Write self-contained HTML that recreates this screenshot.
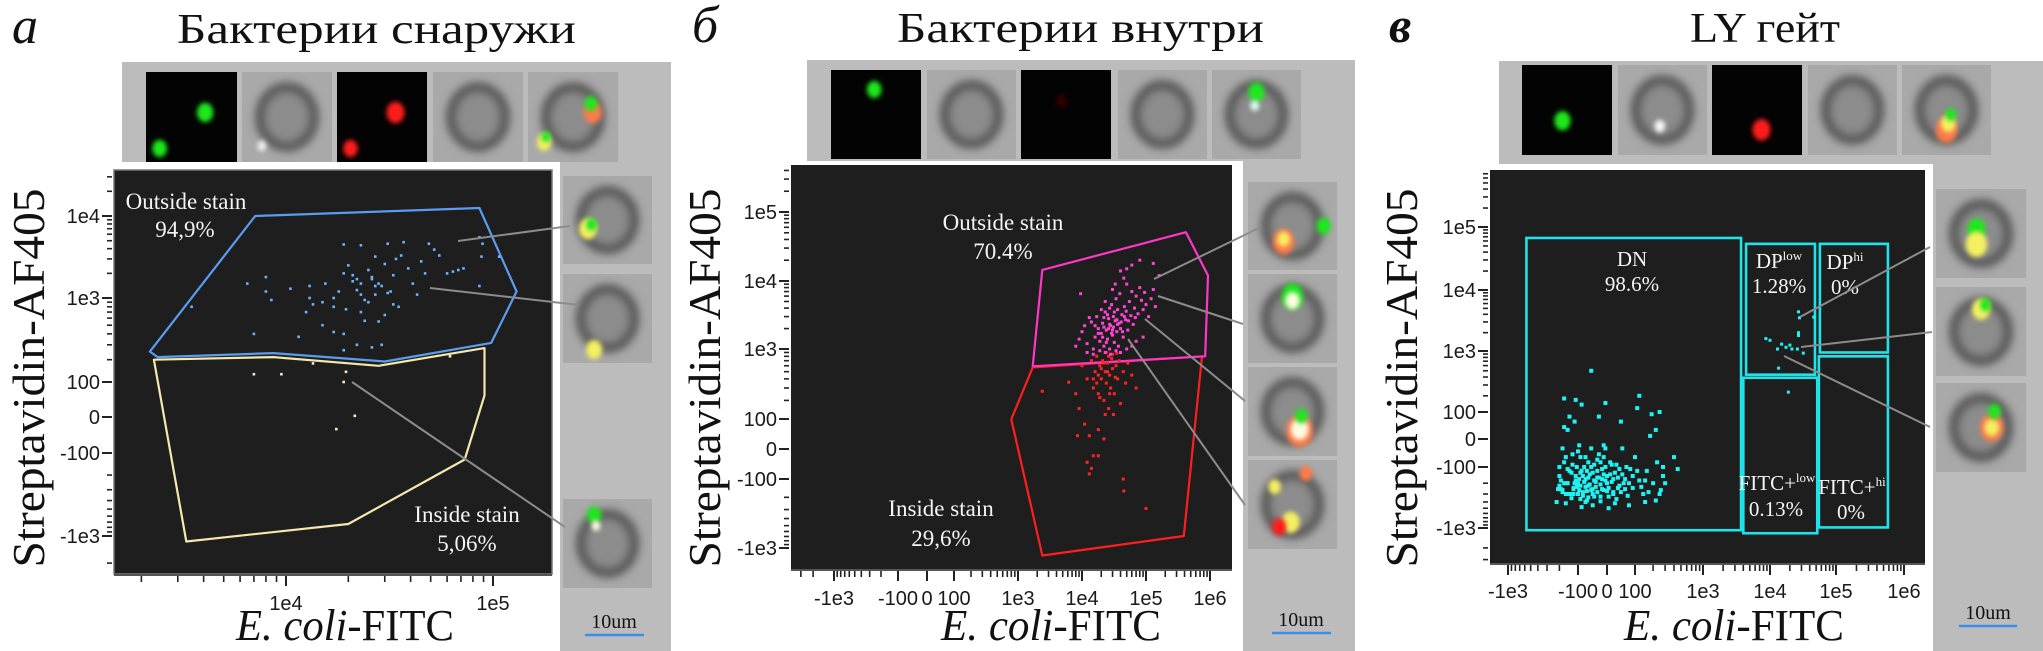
<!DOCTYPE html>
<html><head><meta charset="utf-8"><title>Flow cytometry figure</title>
<style>
html,body{margin:0;padding:0;background:#fff;}
svg{display:block;}
.serif{font-family:"Liberation Serif","Noto Serif CJK SC",serif;}
.sans{font-family:"Liberation Sans","Noto Sans CJK SC",sans-serif;}
</style></head>
<body>
<svg id="fig" width="2043" height="651" viewBox="0 0 2043 651" xmlns="http://www.w3.org/2000/svg">
<defs>
<filter id="b2" x="-50%" y="-50%" width="200%" height="200%"><feGaussianBlur stdDeviation="2.5"/></filter>
<filter id="b4" x="-50%" y="-50%" width="200%" height="200%"><feGaussianBlur stdDeviation="4.5"/></filter>
<clipPath id="clipA"><rect x="114" y="170" width="438" height="404"/></clipPath>
<clipPath id="clipB"><rect x="791" y="165" width="441" height="404"/></clipPath>
<clipPath id="clipC"><rect x="1490" y="170" width="435" height="393"/></clipPath>
</defs>
<rect x="0" y="0" width="2043" height="651" fill="#ffffff"/>

<text class="serif" x="12" y="43" font-size="52" font-style="italic" fill="#111">a</text>
<text class="serif" x="177" y="43" font-size="42" fill="#111" textLength="399" lengthAdjust="spacingAndGlyphs">Бактерии снаружи</text>
<text class="serif" x="692" y="42" font-size="52" font-style="italic" fill="#111">б</text>
<text class="serif" x="897" y="42" font-size="42" fill="#111" textLength="367" lengthAdjust="spacingAndGlyphs">Бактерии внутри</text>
<text class="serif" x="1389" y="42" font-size="50" font-style="italic" font-weight="bold" fill="#111">в</text>
<text class="serif" x="1690" y="42" font-size="42" fill="#111" textLength="150" lengthAdjust="spacingAndGlyphs">LY гейт</text>

<rect x="122" y="62" width="549" height="100" fill="#bcbcbc"/>
<rect x="560" y="162" width="111" height="489" fill="#bcbcbc"/>
<rect x="807" y="60" width="548" height="102" fill="#bcbcbc"/>
<rect x="1243" y="162" width="112" height="489" fill="#bcbcbc"/>
<rect x="1499" y="61" width="544" height="103" fill="#bcbcbc"/>
<rect x="1933" y="164" width="110" height="487" fill="#bcbcbc"/>

<rect x="110" y="166" width="448" height="412" fill="#ffffff"/>
<rect x="114" y="170" width="438" height="404" fill="#1e1e1e" stroke="#777" stroke-width="1.5"/>
<rect x="787" y="161" width="456" height="412" fill="#ffffff"/>
<rect x="791" y="165" width="441" height="404" fill="#1e1e1e"/>
<rect x="1486" y="166" width="447" height="401" fill="#ffffff"/>
<rect x="1490" y="170" width="435" height="393" fill="#1e1e1e"/>

<text class="serif" transform="translate(44,378) rotate(-90)" text-anchor="middle" font-size="46" fill="#111" textLength="379" lengthAdjust="spacingAndGlyphs">Streptavidin-AF405</text>
<text class="serif" transform="translate(720,378) rotate(-90)" text-anchor="middle" font-size="46" fill="#111" textLength="379" lengthAdjust="spacingAndGlyphs">Streptavidin-AF405</text>
<text class="serif" transform="translate(1417,378) rotate(-90)" text-anchor="middle" font-size="46" fill="#111" textLength="379" lengthAdjust="spacingAndGlyphs">Streptavidin-AF405</text>
<text class="serif" x="236" y="640" font-size="44" fill="#111" textLength="218" lengthAdjust="spacingAndGlyphs"><tspan font-style="italic">E. coli</tspan>-FITC</text>
<text class="serif" x="941" y="640" font-size="44" fill="#111" textLength="220" lengthAdjust="spacingAndGlyphs"><tspan font-style="italic">E. coli</tspan>-FITC</text>
<text class="serif" x="1624" y="640" font-size="44" fill="#111" textLength="220" lengthAdjust="spacingAndGlyphs"><tspan font-style="italic">E. coli</tspan>-FITC</text>

<text class="serif" x="614" y="628" font-size="20" text-anchor="middle" fill="#111">10um</text>
<line x1="585" y1="635" x2="644" y2="635" stroke="#3b8ee8" stroke-width="2.5"/>
<text class="serif" x="1301" y="626" font-size="20" text-anchor="middle" fill="#111">10um</text>
<line x1="1272" y1="633" x2="1331" y2="633" stroke="#3b8ee8" stroke-width="2.5"/>
<text class="serif" x="1988" y="619" font-size="20" text-anchor="middle" fill="#111">10um</text>
<line x1="1959" y1="626" x2="2017" y2="626" stroke="#3b8ee8" stroke-width="2.5"/>

<g id="layer"></g>
</svg>

<script>
// ===== DATA =====
const aXTickVals = [1e4, 1e5];
const aXTickLabels = ['1e4', '1e5'];
const aYTickVals = [1e4, 1e3, 100, 0, -100, -1e3];
const aYTickLabels = ['1e4', '1e3', '100', '0', '-100', '-1e3'];
const aOutsidePts = [[3.5e3,800],[6.5e3,1500],[8e3,1800],[8e3,1200],[8.5e3,950],[7e3,400],[1.05e4,1300],[1.3e4,1400],[1.15e4,370],[1.3e4,1000],[1.55e4,1500],[1.35e4,850],[1.5e4,900],[1.7e4,1000],[1.8e4,1200],[1.9e4,4500],[2e4,2500],[1.9e4,2000],[2.1e4,1600],[2.2e4,1700],[2.3e4,4400],[2.3e4,1100],[2.4e4,950],[2.5e4,2200],[2.6e4,1800],[2.7e4,3200],[2.8e4,1500],[2.9e4,1400],[3e4,2600],[3.1e4,4600],[3.2e4,1200],[3.3e4,1900],[3.4e4,3000],[3.6e4,3300],[3.7e4,4800],[3.9e4,2300],[4.1e4,1500],[4.3e4,1100],[4.5e4,2800],[4.7e4,2000],[4.9e4,4600],[5.2e4,3900],[5.5e4,3300],[6e4,2000],[6.4e4,2100],[6.8e4,2200],[7.2e4,2300],[8.6e4,5500],[8.8e4,3200],[8.9e4,4600],[8.6e4,1400],[1.07e5,3200],[1.25e4,700],[1.5e4,500],[1.7e4,420],[1.9e4,400],[2.2e4,300],[2.6e4,280],[2.9e4,300],[2.4e4,560],[2.8e4,550],[3e4,650],[3.5e4,800],[1.7e4,800],[1.95e4,750],[2.3e4,700],[1.9e4,260],[2.7e4,1100],[2.2e4,1250],[2.5e4,900],[2.7e4,1400],[3.1e4,1150],[3.3e4,850],[2.1e4,1900],[2.3e4,1500],[2.6e4,1700]];
const aInsidePts = [[7e3,130],[9.5e3,130],[1.35e4,180],[1.95e4,140],[1.9e4,100],[2.15e4,3],[1.75e4,-30],[6.2e4,220]];
const aOutsideGate = [[2.2e3,250],[7.1e3,1e4],[8.6e4,1.25e4],[1.3e5,1200],[9.8e4,316],[3e4,190],[8.7e3,240],[2.4e3,215]];
const aInsideGate = [[2.3e3,200],[8.7e3,215],[2.8e4,168],[9.1e4,275],[9.1e4,57],[7.3e4,-125],[2e4,-735],[3.3e3,-1150]];

const bXTickVals = [-1e3, -100, 0, 100, 1e3, 1e4, 1e5, 1e6];
const bXTickLabels = ['-1e3', '-100', '0', '100', '1e3', '1e4', '1e5', '1e6'];
const bYTickVals = [1e5, 1e4, 1e3, 100, 0, -100, -1e3];
const bYTickLabels = ['1e5', '1e4', '1e3', '100', '0', '-100', '-1e3'];
const bOutsidePts = [[1e4,1800],[1.2e4,1200],[1.4e4,2500],[1.5e4,1000],[1.6e4,1500],[1.7e4,3000],[1.8e4,2000],[1.9e4,1300],[2e4,1700],[2.1e4,2400],[2.2e4,1100],[2.3e4,3500],[2.4e4,1900],[2.5e4,1400],[2.6e4,2800],[2.7e4,1000],[2.8e4,2200],[2.9e4,4500],[3e4,1600],[3.1e4,3000],[3.2e4,1250],[3.3e4,2600],[3.4e4,5500],[3.5e4,1800],[3.6e4,3800],[3.7e4,1100],[3.8e4,2400],[3.9e4,6500],[4e4,2000],[4.2e4,3200],[4.4e4,1500],[4.6e4,4200],[4.8e4,2700],[5e4,9000],[5.2e4,1900],[5.5e4,5000],[5.8e4,3100],[6e4,7000],[6.3e4,2300],[6.6e4,4000],[7e4,6000],[7.5e4,3300],[8e4,8000],[8.5e4,5200],[9e4,3800],[9.5e4,6800],[1e5,4500],[1.1e5,3000],[1.2e5,5500],[1.3e5,7500],[1.4e5,4200],[1.6e5,12000],[2e4,3800],[2.3e4,5000],[2.7e4,4000],[3e4,7500],[3.3e4,9000],[4e4,14000],[5e4,15000],[4.5e4,11000],[6e4,17000],[8e4,20000],[1.3e5,18000],[1.2e4,900],[1.5e4,850],[1.9e4,950],[2.3e4,900],[2.8e4,850],[3.4e4,950],[4e4,900],[5e4,1000],[6e4,1100],[7e4,1300],[9e4,1500],[8e3,1100],[9e3,1400],[1.1e4,2200],[1.3e4,2900],[2.1e4,1500],[2.4e4,1250],[2.6e4,2000],[2.9e4,1700],[3.1e4,2100],[3.6e4,2300],[4.3e4,1800],[4.9e4,3600],[5.3e4,2600],[6.8e4,2900],[9.5e3,6500],[2.2e4,2900],[1.8e4,1700],[2.5e4,3200],[3.2e4,3500],[4.1e4,2500],[2.7e4,2300],[3.5e4,2700],[2.2e4,2100],[3e4,1900],[1.6e4,2200],[4.6e4,3000]];
const bInsidePts = [[1e4,600],[1.2e4,400],[1.4e4,700],[1.5e4,300],[1.6e4,500],[1.7e4,800],[1.8e4,250],[1.9e4,600],[2e4,400],[2.1e4,700],[2.2e4,200],[2.3e4,500],[2.4e4,350],[2.5e4,650],[2.6e4,150],[2.7e4,450],[2.8e4,300],[2.9e4,750],[3e4,550],[3.2e4,250],[3.4e4,600],[3.6e4,400],[3.8e4,700],[4e4,180],[4.4e4,500],[4.8e4,350],[5.2e4,650],[6e4,450],[7e4,300],[8e3,250],[9e3,150],[1.1e4,80],[1.3e4,40],[1.5e4,-20],[1.4e4,-60],[1.2e4,-40],[1.8e4,60],[2.2e4,30],[1.3e4,-80],[4.4e4,-100],[4.5e4,-160],[1e5,-290],[1.5e4,400],[1.8e4,450],[2.2e4,650],[2.6e4,800],[3e4,850],[2.4e4,900],[3.5e4,880],[1.9e4,220],[2.3e4,120],[2.7e4,250],[3.1e4,120],[2.4e3,270],[6.2e3,360],[8.5e3,40],[1.8e4,-20],[2e4,550],[2.5e4,500],[3.3e4,420],[1.7e4,350]];
const bOutsideGate = [[1.7e3,590],[2.4e3,1.45e4],[4.2e5,5.1e4],[9.3e5,1.2e4],[8.4e5,800]];
const bInsideGate = [[1.7e3,570],[800,99],[2.4e3,-1260],[3.9e5,-690],[7.5e5,800]];

const cXTickVals = [-1e3, -100, 0, 100, 1e3, 1e4, 1e5, 1e6];
const cXTickLabels = ['-1e3', '-100', '0', '100', '1e3', '1e4', '1e5', '1e6'];
const cYTickVals = [1e5, 1e4, 1e3, 100, 0, -100, -1e3];
const cYTickLabels = ['1e5', '1e4', '1e3', '100', '0', '-100', '-1e3'];
const cDnPts = [[-200,-150],[-190,-250],[-170,-80],[-160,-300],[-150,-200],[-140,-120],[-130,-350],[-125,-50],[-120,-250],[-110,-180],[-105,-100],[-100,-300],[-95,-20],[-90,-220],[-80,-150],[-70,-400],[-60,-80],[-50,-260],[-40,-180],[-30,-120],[-20,-330],[-10,-60],[0,-200],[10,-140],[20,-280],[30,-90],[40,-220],[50,-30],[60,-170],[70,-320],[80,-110],[90,-240],[100,-60],[120,-180],[140,-300],[160,-120],[180,10],[200,-200],[230,-80],[260,-260],[280,-150],[220,30],[280,-100],[300,-200],[400,-60],[450,-110],[-220,-400],[-180,-30],[-170,40],[-160,-420],[-150,30],[-115,60],[-85,-480],[-45,-450],[-25,80],[5,-500],[25,-420],[45,60],[75,-450],[110,120],[150,-400],[190,90],[220,-380],[250,100],[250,-300],[-60,-160],[-70,-230],[-40,-90],[-20,-210],[0,-150],[-110,-150],[-90,-60],[-130,-130],[-50,-30],[-10,-260],[20,-170],[40,-110],[-150,-200],[-80,-280],[10,-80],[60,-250],[-30,-280],[-120,-240],[-200,-220],[-100,-40],[90,-150],[130,-230],[-60,-340],[-180,-280],[30,-360],[-190,-180],[-5,-30],[-200,-100],[170,-280],[-140,80],[-180,-260],[-50,500],[-110,170],[-85,140],[-5,150],[-170,180],[120,200],[-210,-250],[-45,-130],[-25,-160],[-65,-120],[-35,-230],[-15,-110],[5,-240],[-75,-190],[-55,-210],[-95,-170],[15,-190],[-5,-100],[-85,-120],[25,-130],[-45,-300],[-15,-170],[-30,-70],[-70,-60],[35,-160],[-105,-230],[55,-200],[-125,-90],[-65,-270],[-20,-390],[5,-330],[65,-100],[-140,-300],[45,-280],[-150,-110],[-170,-200],[75,-200],[-10,-20],[110,-120],[-160,-60],[150,-180],[-90,-360],[-55,-140],[-35,-190],[-75,-100],[-15,-250],[-95,-260],[15,-90],[-40,-330],[-60,-220],[-25,-50],[-115,-200],[35,-240],[-80,-320],[-5,-180],[-50,-100],[-30,-160],[-70,-170],[-90,-130],[-10,-140],[-45,-250],[-120,-300],[20,-300],[-100,-200],[50,-140],[-65,-380],[-20,-80],[0,-270]];
const cDpPts = [[2.7e4,4400],[2.8e4,3500],[4.6e4,3600],[2.7e4,2000],[2.7e4,1800],[8.7e3,1600],[1e4,1500],[1.5e4,1300],[1.75e4,1150],[2e4,1250],[2.15e4,1080],[2.6e4,1080],[3.2e4,930],[1.3e4,1080],[1.35e4,550],[1.9e4,230]];
const cGateDN = [[-570,6.7e4],[3.7e3,-1080]];
const cGateDPlow = [[4.4e3,5.4e4],[4.8e4,435]];
const cGateDPhi = [[5.7e4,5.4e4],[5.8e5,950]];
const cGateFitcLow = [[4e3,390],[5.2e4,-1200]];
const cGateFitcHi = [[5.5e4,830],[5.8e5,-980]];

// ===== RENDER =====
const NS = 'http://www.w3.org/2000/svg';
const layer = document.getElementById('layer');
function mk(tag, attrs, parent) {
  const e = document.createElementNS(NS, tag);
  for (const k in attrs) e.setAttribute(k, attrs[k]);
  (parent || layer).appendChild(e);
  return e;
}
function tr(v) { return Math.asinh(v / 100); }
function scale(vals, pxs) {
  const ts = vals.map(tr);
  return function (v) {
    const t = tr(v);
    let i = 0;
    while (i < ts.length - 2 && t > ts[i + 1]) i++;
    return pxs[i] + (t - ts[i]) * (pxs[i + 1] - pxs[i]) / (ts[i + 1] - ts[i]);
  };
}
const minorVals = [];
[2, 3, 4, 5].forEach(function (n) {
  for (let m = 2; m <= 9; m++) { minorVals.push(m * Math.pow(10, n)); minorVals.push(-m * Math.pow(10, n)); }
});
[1e2, 1e3, 1e4, 1e5, 1e6, -1e3, -1e4].forEach(function (v) { minorVals.push(v); });

function axes(p) {
  const g = mk('g', {});
  
  
  const L = p.plot[0], T = p.plot[1], R = p.plot[2], B = p.plot[3];
  minorVals.forEach(function (v) {
    const y = p.ys(v);
    if (y > T + 2 && y < B - 2) {
      const t = mk('line', {x1: L - 7, x2: L - 2, y1: y, y2: y, stroke: '#222', 'stroke-width': 1.6}, g);
      
      
    }
    const x = p.xs(v);
    if (x > L + 2 && x < R - 2) {
      const t2 = mk('line', {x1: x, x2: x, y1: B + 2, y2: B + 8, stroke: '#222', 'stroke-width': 1.6}, g);
      
      
    }
  });
  p.yTicks.forEach(function (v, i) {
    const y = p.ys(v);
    const t = mk('line', {x1: L - 12, x2: L - 2, y1: y, y2: y, stroke: '#222', 'stroke-width': 2}, g);
    
    
    const lb = mk('text', {x: L - 14, y: y + 7, 'text-anchor': 'end', 'font-size': 20, fill: '#1a1a1a', class: 'sans'}, g);
    lb.textContent = p.yLabels[i];
    
    
  });
  p.xTicks.forEach(function (v, i) {
    const x = p.xs(v);
    const t = mk('line', {x1: x, x2: x, y1: B + 2, y2: B + 12, stroke: '#222', 'stroke-width': 2}, g);
    
    
    const lb = mk('text', {x: x, y: p.xLabelY, 'text-anchor': 'middle', 'font-size': 20, fill: '#1a1a1a', class: 'sans'}, g);
    lb.textContent = p.xLabels[i];
    
    
  });
  const ax = mk('line', {x1: L, x2: R, y1: B + 1, y2: B + 1, stroke: '#555', 'stroke-width': 2}, g);
  
  
}
function polyGate(p, pts, color, name, width) {
  const s = pts.map(function (d) { return p.xs(d[0]).toFixed(1) + ',' + p.ys(d[1]).toFixed(1); }).join(' ');
  const e = mk('polygon', {points: s, fill: 'none', stroke: color, 'stroke-width': width || 2.2, 'stroke-linejoin': 'round', 'clip-path': p.clip});
  
  
}
function rectGate(p, pts, name) {
  const x1 = p.xs(pts[0][0]), y1 = p.ys(pts[0][1]), x2 = p.xs(pts[1][0]), y2 = p.ys(pts[1][1]);
  const e = mk('rect', {x: Math.min(x1, x2), y: Math.min(y1, y2), width: Math.abs(x2 - x1), height: Math.abs(y2 - y1), fill: 'none', stroke: '#1fe3e8', 'stroke-width': 2.6});
  
  
}
function dots(p, pts, color, size, name) {
  const g = mk('g', {fill: color, 'clip-path': p.clip});
  
  
  pts.forEach(function (d) {
    const c = mk('rect', {x: (p.xs(d[0]) - size / 2).toFixed(1), y: (p.ys(d[1]) - size / 2).toFixed(1), width: size, height: size}, g);
    
    
  });
}
function label(x, y, txt, name, size) {
  const t = mk('text', {x: x, y: y, 'text-anchor': 'middle', 'font-size': size || 23, fill: '#f4f4f4', class: 'serif'});
  t.innerHTML = txt;
  
  
}
function link(x1, y1, x2, y2, name) {
  const l = mk('line', {x1: x1, y1: y1, x2: x2, y2: y2, stroke: '#8c8c8c', 'stroke-width': 2});
  
  
}
function tile(x, y, w, h, kind, blobs, name) {
  const g = mk('g', {});
  
  
  const bg = mk('rect', {x: x, y: y, width: w, height: h, fill: kind === 'fl' ? '#030303' : '#a9a9a9'}, g);
  
  
  if (kind !== 'fl') {
    const ring = mk('ellipse', {cx: x + w * 0.5, cy: y + h * 0.5, rx: w * 0.3, ry: h * 0.33, fill: '#8c8c8c', stroke: '#4e4e4e', 'stroke-width': 9, filter: 'url(#b4)'}, g);
    
    
  }
  blobs.forEach(function (b) {
    const c = mk('ellipse', {cx: x + w * b[0], cy: y + h * b[1], rx: w * b[2], ry: h * b[2] * 1.2, fill: b[3], filter: 'url(#b2)'}, g);
    
    
  });
}

const pA = {id: 'panel-a', plot: [114, 170, 552, 574], clip: 'url(#clipA)', xs: scale([1e4, 1e5], [286, 493]),
  ys: scale([-1e3, -100, 0, 100, 1e3, 1e4], [536, 453, 417, 382, 298, 216]),
  xTicks: aXTickVals, xLabels: aXTickLabels, yTicks: aYTickVals, yLabels: aYTickLabels, xLabelY: 610};
const pB = {id: 'panel-b', plot: [791, 165, 1232, 569], clip: 'url(#clipB)',
  xs: scale([-1e3, -100, 0, 100, 1e3, 1e4, 1e5, 1e6], [834, 898, 927, 954, 1018, 1082, 1146, 1210]),
  ys: scale([-1e3, -100, 0, 100, 1e3, 1e4, 1e5], [548, 479, 449, 419, 349, 281, 212]),
  xTicks: bXTickVals, xLabels: bXTickLabels, yTicks: bYTickVals, yLabels: bYTickLabels, xLabelY: 605};
const pC = {id: 'panel-c', plot: [1490, 170, 1925, 563], clip: 'url(#clipC)',
  xs: scale([-1e3, -100, 0, 100, 1e3, 1e4, 1e5, 1e6], [1508, 1578, 1607, 1635, 1703, 1770, 1836, 1904]),
  ys: scale([-1e3, -100, 0, 100, 1e3, 1e4, 1e5], [528, 467, 439, 412, 351, 290, 227]),
  xTicks: cXTickVals, xLabels: cXTickLabels, yTicks: cYTickVals, yLabels: cYTickLabels, xLabelY: 598};

[pA, pB, pC].forEach(axes);

polyGate(pA, aOutsideGate, '#5b9cf2', 'outside-stain-gate');
polyGate(pA, aInsideGate, '#f5e7ad', 'inside-stain-gate');
dots(pA, aOutsidePts, '#6fb0ff', 2.6, 'outside-stain-events');
dots(pA, aInsidePts, '#f7ecbc', 2.6, 'inside-stain-events');
label(186, 209, 'Outside stain', 'outside-stain-label');
label(185, 237, '94,9%', 'outside-stain-percent');
label(467, 522, 'Inside stain', 'inside-stain-label');
label(467, 551, '5,06%', 'inside-stain-percent');

polyGate(pB, bInsideGate, '#ff1e1e', 'inside-stain-gate-b');
polyGate(pB, bOutsideGate, '#ff36c8', 'outside-stain-gate-b');
dots(pB, bInsidePts, '#ff2424', 3, 'inside-stain-events-b');
dots(pB, bOutsidePts, '#ff44d2', 3, 'outside-stain-events-b');
label(1003, 230, 'Outside stain', 'outside-stain-label-b');
label(1003, 259, '70.4%', 'outside-stain-percent-b');
label(941, 516, 'Inside stain', 'inside-stain-label-b');
label(941, 546, '29,6%', 'inside-stain-percent-b');

rectGate(pC, cGateDN, 'dn-gate');
rectGate(pC, cGateDPlow, 'dp-low-gate');
rectGate(pC, cGateDPhi, 'dp-hi-gate');
rectGate(pC, cGateFitcLow, 'fitc-low-gate');
rectGate(pC, cGateFitcHi, 'fitc-hi-gate');
dots(pC, cDnPts, '#1ff4f4', 4, 'dn-events');
dots(pC, cDpPts, '#1ff4f4', 3, 'dp-low-events');
label(1632, 266, 'DN', 'dn-label', 21);
label(1632, 291, '98.6%', 'dn-percent', 21);
label(1779, 268, 'DP<tspan font-size="13" dy="-8">low</tspan>', 'dp-low-label', 21);
label(1779, 293, '1.28%', 'dp-low-percent', 21);
label(1845, 269, 'DP<tspan font-size="13" dy="-8">hi</tspan>', 'dp-hi-label', 21);
label(1845, 294, '0%', 'dp-hi-percent', 21);
label(1777, 490, 'FITC+<tspan font-size="13" dy="-8">low</tspan>', 'fitc-low-label', 21);
label(1776, 516, '0.13%', 'fitc-low-percent', 21);
label(1852, 494, 'FITC+<tspan font-size="13" dy="-8">hi</tspan>', 'fitc-hi-label', 21);
label(1851, 519, '0%', 'fitc-hi-percent', 21);

const G = '#1ee81e', RD = '#ff1a1a', Y = '#f4f060', W = '#fffbe0', O = '#ff7a4a';
tile(146, 72, 91, 90, 'fl', [[0.65, 0.45, 0.09, G], [0.15, 0.85, 0.08, G]], 'a-green-channel-image');
tile(242, 72, 90, 90, 'bf', [[0.22, 0.82, 0.05, '#eee']], 'a-brightfield-image');
tile(337, 72, 90, 90, 'fl', [[0.65, 0.45, 0.1, RD], [0.15, 0.85, 0.08, RD]], 'a-red-channel-image');
tile(433, 72, 90, 90, 'bf', [], 'a-brightfield-image-2');
tile(528, 72, 90, 90, 'mg', [[0.72, 0.45, 0.1, O], [0.7, 0.35, 0.07, G], [0.18, 0.78, 0.08, Y], [0.2, 0.72, 0.05, G]], 'a-merged-image');
tile(563, 176, 89, 88, 'mg', [[0.28, 0.6, 0.1, Y], [0.32, 0.55, 0.06, G]], 'a-side-image-1');
tile(563, 274, 89, 89, 'mg', [[0.35, 0.85, 0.09, Y]], 'a-side-image-2');
tile(563, 499, 89, 89, 'mg', [[0.35, 0.18, 0.08, G], [0.37, 0.3, 0.05, W]], 'a-side-image-3');

tile(831, 70, 90, 89, 'fl', [[0.48, 0.22, 0.08, G]], 'b-green-channel-image');
tile(927, 70, 89, 89, 'bf', [], 'b-brightfield-image');
tile(1021, 70, 90, 89, 'fl', [[0.45, 0.35, 0.06, '#300']], 'b-red-channel-image');
tile(1118, 70, 89, 89, 'bf', [], 'b-brightfield-image-2');
tile(1212, 70, 89, 89, 'mg', [[0.5, 0.25, 0.09, G], [0.48, 0.4, 0.05, '#dfe']], 'b-merged-image');
tile(1248, 182, 89, 88, 'mg', [[0.4, 0.68, 0.12, O], [0.4, 0.65, 0.07, Y], [0.85, 0.5, 0.08, G]], 'b-side-image-1');
tile(1248, 274, 89, 89, 'mg', [[0.5, 0.25, 0.12, G], [0.5, 0.3, 0.08, W]], 'b-side-image-2');
tile(1248, 367, 89, 89, 'mg', [[0.58, 0.72, 0.15, O], [0.58, 0.7, 0.1, W], [0.6, 0.55, 0.07, G]], 'b-side-image-3');
tile(1248, 460, 89, 89, 'mg', [[0.3, 0.3, 0.07, Y], [0.48, 0.7, 0.1, Y], [0.65, 0.15, 0.07, O], [0.35, 0.75, 0.08, RD]], 'b-side-image-4');

tile(1522, 65, 90, 90, 'fl', [[0.45, 0.62, 0.09, G]], 'c-green-channel-image');
tile(1618, 65, 89, 90, 'bf', [[0.47, 0.68, 0.06, '#f4f4f4']], 'c-brightfield-image');
tile(1712, 65, 90, 90, 'fl', [[0.55, 0.72, 0.1, RD]], 'c-red-channel-image');
tile(1808, 65, 89, 90, 'bf', [], 'c-brightfield-image-2');
tile(1902, 65, 89, 90, 'mg', [[0.5, 0.72, 0.12, O], [0.52, 0.65, 0.08, Y], [0.55, 0.55, 0.06, G]], 'c-merged-image');
tile(1936, 189, 90, 89, 'mg', [[0.45, 0.45, 0.1, G], [0.45, 0.62, 0.12, Y]], 'c-side-image-1');
tile(1936, 287, 90, 89, 'mg', [[0.5, 0.25, 0.1, Y], [0.55, 0.2, 0.06, G]], 'c-side-image-2');
tile(1936, 383, 90, 89, 'mg', [[0.62, 0.5, 0.13, O], [0.62, 0.5, 0.08, Y], [0.65, 0.32, 0.07, G]], 'c-side-image-3');

link(458, 241, 570, 226, 'a-connector-1');
link(430, 288, 579, 305, 'a-connector-2');
link(352, 382, 565, 527, 'a-connector-3');
link(1154, 279, 1259, 228, 'b-connector-1');
link(1158, 296, 1243, 324, 'b-connector-2');
link(1145, 319, 1245, 401, 'b-connector-3');
link(1128, 339, 1245, 505, 'b-connector-4');
link(1800, 317, 1930, 247, 'c-connector-1');
link(1801, 347, 1932, 332, 'c-connector-2');
link(1784, 356, 1930, 427, 'c-connector-3');
</script>
</body></html>
